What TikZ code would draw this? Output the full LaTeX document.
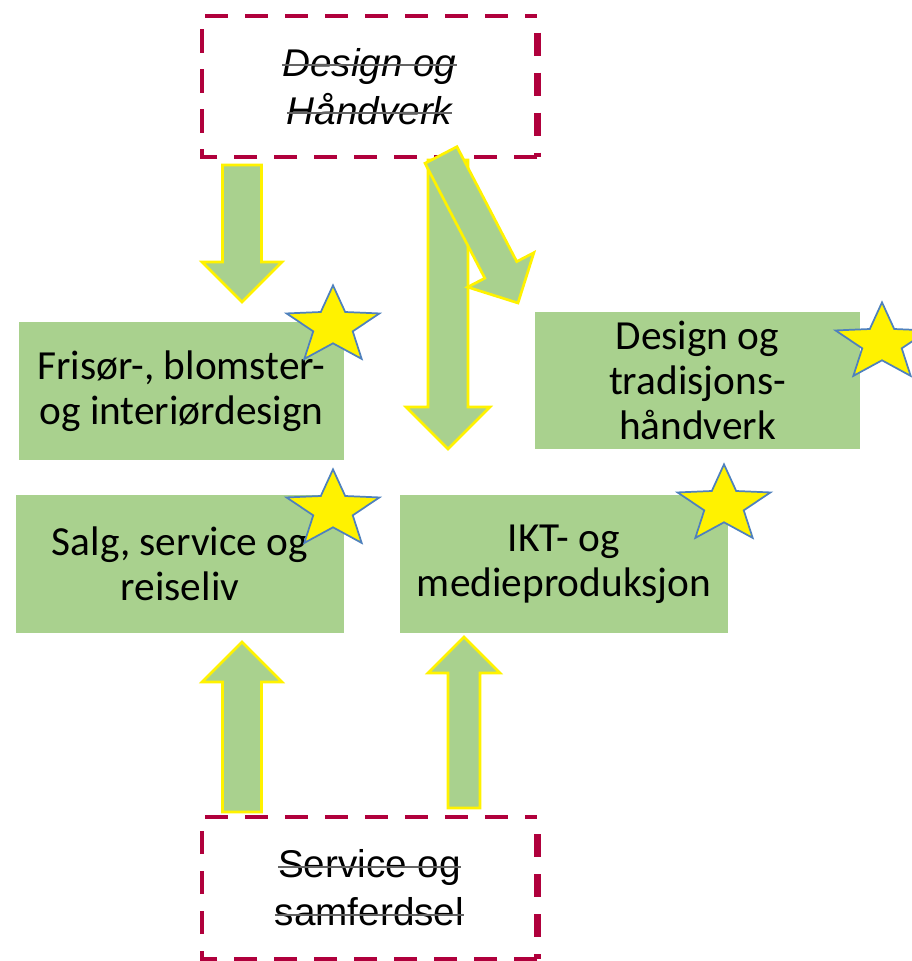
\documentclass[tikz,border=0pt]{standalone}
\usepackage{fontspec}
\setmainfont{Carlito}
\newfontfamily\arialfont{Liberation Sans}
\usetikzlibrary{shapes.geometric,calc}

\definecolor{boxgreen}{RGB}{169,209,142}
\definecolor{dashred}{RGB}{176,0,60}
\definecolor{starblue}{RGB}{79,129,189}
\definecolor{strikegrey}{RGB}{100,100,100}

\newlength\strikelen
\newcommand\greysout[1]{\settowidth\strikelen{#1}#1\llap{\textcolor{strikegrey}{\rule[0.5ex]{\strikelen}{1.3pt}}}}

\newcommand\blockarrow[4]{%
  \coordinate (hb) at ($(#2)!#4!(#1)$);
  \path[arrowshape] ($(#1)!#3!90:(#2)$) -- ($(hb)!#3!90:(#2)$) -- ($(hb)!#4!90:(#2)$) -- (#2)
    -- ($(hb)!#4!-90:(#2)$) -- ($(hb)!#3!-90:(#2)$) -- ($(#1)!#3!-90:(#2)$) -- cycle;
}

\tikzset{
  greenbox/.style={fill=boxgreen, align=center, inner sep=0pt, font=\fontsize{31}{34}\selectfont},
  oldbox/.style={align=center, inner sep=0pt, minimum width=251.25pt, minimum height=105.5pt, font=\arialfont\fontsize{29}{36}\selectfont},
  dashside/.style={draw=dashred, line width=3pt, dash pattern=on 17.5pt off 12.5pt},
  thickside/.style={draw=dashred, line width=5.5pt, dash pattern=on 17.5pt off 12.5pt, dash phase=17.5pt},
  arrowshape/.style={fill=boxgreen, draw=yellow, line width=2pt},
  goldstar/.style={star, star points=5, star point ratio=2.35, fill=yellow, draw=starblue, line width=1.3pt, minimum size=61pt, inner sep=0pt, xscale=1.2}
}

\begin{document}
\begin{tikzpicture}[x=0.75pt, y=-0.75pt]
  \useasboundingbox (0, 0) rectangle (912, 961);

  \node[oldbox] at (369.5, 86.5)(dh){\itshape\greysout{Design og}\\\itshape\greysout{Håndverk}};
  \node[oldbox] at (369.5, 888)(ss){\greysout{Service og}\\\greysout{samferdsel}};
  \draw[dashside] (dh.south east) -- (dh.south west) -- (dh.north west) -- (dh.north east);
  \draw[thickside] (dh.north east) -- (dh.south east);
  \draw[dashside] (ss.south east) -- (ss.south west) -- (ss.north west) -- (ss.north east);
  \draw[thickside] (ss.north east) -- (ss.south east);

  \node[greenbox, minimum width=243.75pt, minimum height=103.5pt] at (181.5, 391)(fris){Frisør-, blomster-\\og interiørdesign};
  \node[greenbox, minimum width=246pt, minimum height=103.5pt] at (180, 564)(salg){Salg, service og\\reiseliv};
  \node[greenbox, minimum width=243.75pt, minimum height=102.75pt] at (697.5, 380.5)(trad){Design og\\tradisjons-\\håndverk};
  \node[greenbox, minimum width=246pt, minimum height=103.5pt] at (564, 564)(ikt){IKT- og\\medieproduksjon};

  \node[goldstar] at (333, 326)(starfris){};
  \node[goldstar] at (333, 510)(starsalg){};
  \node[goldstar] at (882, 343)(startrad){};
  \node[goldstar] at (724, 505)(starikt){};

  \coordinate (dhA) at (242, 165);
  \coordinate (frisA) at (242, 302);
  \coordinate (dhB) at (448, 160);
  \coordinate (iktB) at (448, 449);
  \coordinate (dhC) at (441, 155);
  \coordinate (tradC) at (518, 303);
  \coordinate (ssD) at (242, 812);
  \coordinate (salgD) at (242, 642);
  \coordinate (ssE) at (464, 808);
  \coordinate (iktE) at (464, 637);

  \blockarrow{dhA}{frisA}{14.6pt}{30pt}
  \blockarrow{dhB}{iktB}{15pt}{31.5pt}
  \blockarrow{dhC}{tradC}{13.5pt}{28pt}
  \blockarrow{ssD}{salgD}{14.6pt}{30pt}
  \blockarrow{ssE}{iktE}{12pt}{27pt}
\end{tikzpicture}
\end{document}
